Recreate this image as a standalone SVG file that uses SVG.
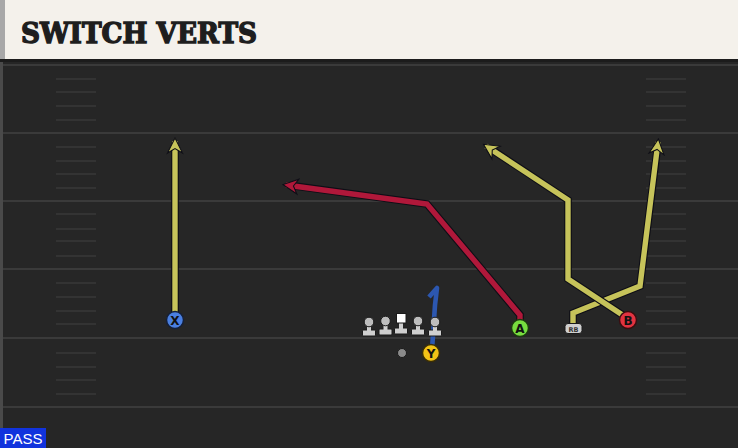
<svg xmlns="http://www.w3.org/2000/svg" width="738" height="448" viewBox="0 0 738 448">
<defs>
<style>
.yard{stroke:#3a3a3a;stroke-width:2}
.hash{stroke:#383838;stroke-width:1.6}
.out{fill:none;stroke:#0e0e16;stroke-width:7.6;stroke-linejoin:miter;stroke-linecap:butt}
.yel{fill:none;stroke:#c6c35a;stroke-width:5.4;stroke-linejoin:miter}
.red{fill:none;stroke:#b0183a;stroke-width:5.4;stroke-linejoin:miter}
.blu{fill:none;stroke:#2c57b0;stroke-width:4.6;stroke-linejoin:round;stroke-linecap:butt}
.lbl{font-family:"DejaVu Sans","Liberation Sans",sans-serif;font-weight:bold;font-size:12px;fill:#111;text-anchor:middle}
.lm{fill:#cfcfcf;stroke:#1a1a1a;stroke-width:1}
</style>
<marker id="ay" viewBox="0 0 12 12" refX="9" refY="6" markerWidth="18" markerHeight="18" markerUnits="userSpaceOnUse" orient="auto">
<path d="M1,1 L11,6 L1,11 L4,6 z" fill="#c6c35a" stroke="#0e0e16" stroke-width="0.7"/>
</marker>
<marker id="ar" viewBox="0 0 12 12" refX="9" refY="6" markerWidth="18" markerHeight="18" markerUnits="userSpaceOnUse" orient="auto">
<path d="M1,1 L11,6 L1,11 L4,6 z" fill="#b0183a" stroke="#0e0e16" stroke-width="0.7"/>
</marker>
<g id="lineman">
<rect x="-6.5" y="8" width="13" height="6" rx="1" class="lm"/>
<rect x="-2" y="2" width="4" height="7" fill="#cfcfcf"/>
<circle cx="0" cy="0" r="4.8" fill="#bdbdbd" stroke="#1a1a1a" stroke-width="1"/>
</g>
</defs>
<rect width="738" height="448" fill="#262626"/>
<rect x="0" y="0" width="3" height="448" fill="#4a4a4a"/>
<g id="field">
<line class="yard" x1="3" y1="65" x2="738" y2="65"/>
<line class="yard" x1="3" y1="133" x2="738" y2="133"/>
<line class="yard" x1="3" y1="201" x2="738" y2="201"/>
<line class="yard" x1="3" y1="269" x2="738" y2="269"/>
<line class="yard" x1="3" y1="338" x2="738" y2="338"/>
<line class="yard" x1="3" y1="407" x2="738" y2="407"/>
<g class="hash">
<path d="M56,79H96M56,92H96M56,106H96M56,120H96M56,147H96M56,161H96M56,174H96M56,188H96M56,214H96M56,229H96M56,241H96M56,256H96M56,283H96M56,297H96M56,311H96M56,324H96M56,353H96M56,367H96M56,380H96M56,394H96"/>
<path d="M646,79H686M646,92H686M646,106H686M646,120H686M646,147H686M646,161H686M646,174H686M646,188H686M646,214H686M646,229H686M646,241H686M646,256H686M646,283H686M646,297H686M646,311H686M646,324H686M646,353H686M646,367H686M646,380H686M646,394H686"/>
</g>
</g>
<g id="header">
<rect x="0" y="0" width="738" height="62" fill="#1c1c1c"/>
<rect x="0" y="0" width="5" height="59" fill="#a8a8a8"/>
<rect x="5" y="0" width="733" height="59" fill="#f4f1eb"/>
<text x="21" y="43" font-family="'DejaVu Serif','Liberation Serif',serif" font-weight="bold" font-size="27" fill="#1e1e1e" stroke="#1e1e1e" stroke-width="1.4" textLength="236" lengthAdjust="spacingAndGlyphs">SWITCH VERTS</text>
</g>
<g id="connectors">
<path class="out" d="M175,312 V149"/>
<path class="yel" d="M175,312 V141" marker-end="url(#ay)"/>
<path class="out" d="M520,322 V315 L427,204 L295,186"/>
<path class="red" d="M520,322 V315 L427,204 L286,185" marker-end="url(#ar)"/>
<path class="out" d="M573,324 V313 L640,286 L657,151"/>
<path class="yel" d="M573,324 V313 L640,286 L658,142" marker-end="url(#ay)"/>
<path class="out" d="M624,316 L568,279 V200 L494,151"/>
<path class="yel" d="M624,316 L568,279 V200 L486,146" marker-end="url(#ay)"/>
<path class="blu" d="M429,297 L437,288 L435,305 L432,350"/>
</g>
<g id="line">
<use href="#lineman" x="369" y="322"/>
<use href="#lineman" x="385.5" y="321"/>
<g id="center">
<rect x="394.5" y="328" width="13" height="6" rx="1" class="lm"/>
<rect x="399" y="321" width="4" height="8" fill="#cfcfcf"/>
<rect x="396.5" y="313.5" width="9.5" height="9.5" fill="#ffffff" stroke="#1a1a1a" stroke-width="1"/>
</g>
<use href="#lineman" x="418" y="321"/>
<use href="#lineman" x="435" y="322"/>
</g>
<g id="ball"><circle cx="402" cy="353" r="4.5" fill="#8a8a8a" stroke="#1a1a1a" stroke-width="1"/></g>
<g id="X"><circle cx="175" cy="320" r="8.5" fill="#4a7fe0" stroke="#14203a" stroke-width="1.5"/><text class="lbl" x="175" y="324.5">X</text></g>
<g id="A"><circle cx="520" cy="328" r="8.5" fill="#77dd3f" stroke="#1c3a10" stroke-width="1.5"/><text class="lbl" x="520" y="332.5">A</text></g>
<g id="B"><circle cx="628" cy="320" r="8.5" fill="#e23340" stroke="#3a0d10" stroke-width="1.5"/><text class="lbl" x="628" y="324.5">B</text></g>
<g id="Y"><circle cx="431" cy="353" r="8.5" fill="#f2c316" stroke="#3a2e06" stroke-width="1.5"/><text class="lbl" x="431" y="357.5">Y</text></g>
<g id="RB"><rect x="565" y="323.5" width="17" height="10" rx="3" fill="#cfcfcf" stroke="#1a1a1a" stroke-width="1"/><text x="573.5" y="331.5" font-family="'DejaVu Sans','Liberation Sans',sans-serif" font-size="6.5" font-weight="bold" fill="#333" text-anchor="middle">RB</text></g>
<g id="pass"><rect x="0" y="428" width="46" height="20" fill="#1133dd"/><text x="23" y="444" font-family="'Liberation Sans',Arial,sans-serif" font-size="15" fill="#ffffff" text-anchor="middle">PASS</text></g>
</svg>
